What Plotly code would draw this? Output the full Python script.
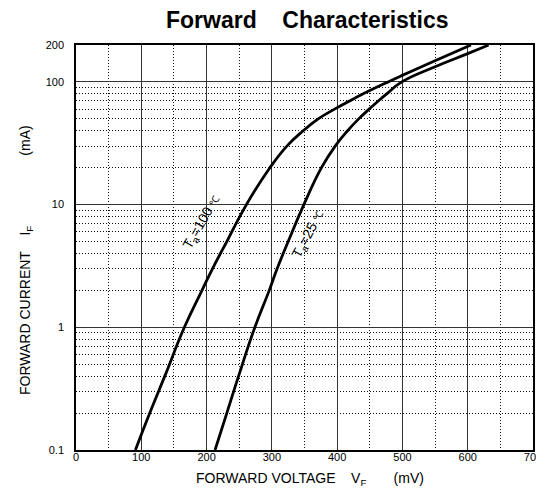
import plotly.graph_objects as go
import math

# ---- data ----
v_100 = [91, 113, 136, 166, 193, 209, 231, 261, 297, 323, 348, 371, 396, 419, 440, 478, 498, 549, 605]
i_100 = [0.1, 0.2, 0.4, 1, 2, 3, 5, 10, 20, 30, 40, 50, 60, 70, 80, 100, 112, 148, 200]

v_25 = [213, 231, 249, 274, 296, 308, 325, 349, 376, 397, 416, 433, 449, 463, 476, 499, 550, 600, 632]
i_25 = [0.1, 0.2, 0.4, 1, 2, 3, 5, 10, 20, 30, 40, 50, 60, 70, 80, 100, 133, 170, 200]

x_ticks = [0, 100, 200, 300, 400, 500, 600, 700]
y_ticks = [0.1, 1, 10, 100, 200]
y_tick_text = ["0.1", "1", "10", "100", "200"]

label_100 = {"v": 191.5, "i": 7.15, "angle": -60}
label_25 = {"v": 356.8, "i": 5.71, "angle": -62}

FONT = "Liberation Sans, Arial, sans-serif"
NB = "\u00a0"

fig = go.Figure()
for vs, cs in [(v_100, i_100), (v_25, i_25)]:
    fig.add_trace(go.Scatter(
        x=vs, y=cs, mode="lines",
        line=dict(color="black", width=2.8, shape="spline", smoothing=1.3),
        showlegend=False, hoverinfo="skip"))

W, H = 544, 493
L, R, T, B = 68, 10, 37, 51
pw = W - L - R
ph = H - T - B

def px_x(px):
    return (px - L) / pw

def px_y(py):
    return (H - B - py) / ph

fig.update_layout(
    width=W, height=H,
    margin=dict(l=L, r=R, t=T, b=B),
    paper_bgcolor="white", plot_bgcolor="white",
    font=dict(family=FONT, color="black", size=11),
)

fig.update_xaxes(
    range=[0, 700], tickvals=x_ticks, ticks="", ticklabelstandoff=-4,
    showgrid=True, gridcolor="#333333", gridwidth=1,
    minor=dict(dtick=50, showgrid=True, gridcolor="#111111", gridwidth=1,
               griddash="1px,2px", ticks=""),
    showline=True, linecolor="black", linewidth=1.5, mirror=True,
    zeroline=False, tickfont=dict(size=11),
)
fig.update_yaxes(
    type="log", range=[math.log10(0.1), math.log10(200)],
    tickmode="array", tickvals=y_ticks, ticktext=y_tick_text, ticks="",
    ticklabelstandoff=8,
    showgrid=True, gridcolor="#333333", gridwidth=1,
    minor=dict(dtick="D1", showgrid=True, gridcolor="#111111", gridwidth=1,
               griddash="1px,2px", ticks=""),
    showline=True, linecolor="black", linewidth=1.5, mirror=True,
    zeroline=False, tickfont=dict(size=11),
)

# title
fig.add_annotation(
    text="<b>Forward" + NB * 4 + "Characteristics</b>",
    xref="paper", yref="paper", x=px_x(304), y=px_y(12),
    showarrow=False, xanchor="center", yanchor="middle",
    font=dict(size=23, family=FONT, color="black"))

fig.add_annotation(
    text="FORWARD VOLTAGE" + NB * 4 + "V<sub>F</sub>" + NB * 7 + "(mV)",
    xref="paper", yref="paper", x=px_x(188), y=px_y(471),
    showarrow=False, xanchor="left", yanchor="middle",
    font=dict(size=14, family=FONT, color="black"))
fig.add_annotation(
    text="FORWARD CURRENT" + NB * 4 + "I<sub>F</sub>" + NB * 18 + "(mA)",
    xref="paper", yref="paper", x=px_x(17), y=px_y(389),
    showarrow=False, xanchor="center", yanchor="bottom", textangle=-90,
    font=dict(size=14, family=FONT, color="black"))

for lab, temp in [(label_100, "100"), (label_25, "25")]:
    fig.add_annotation(
        text="T<sub>a</sub>=" + temp + " <span style='font-size:10px'>℃</span>",
        x=lab["v"], y=math.log10(lab["i"]), xref="x", yref="y",
        showarrow=False, textangle=lab["angle"],
        font=dict(size=14, family=FONT, color="black"))

fig.write_html("out.html")
